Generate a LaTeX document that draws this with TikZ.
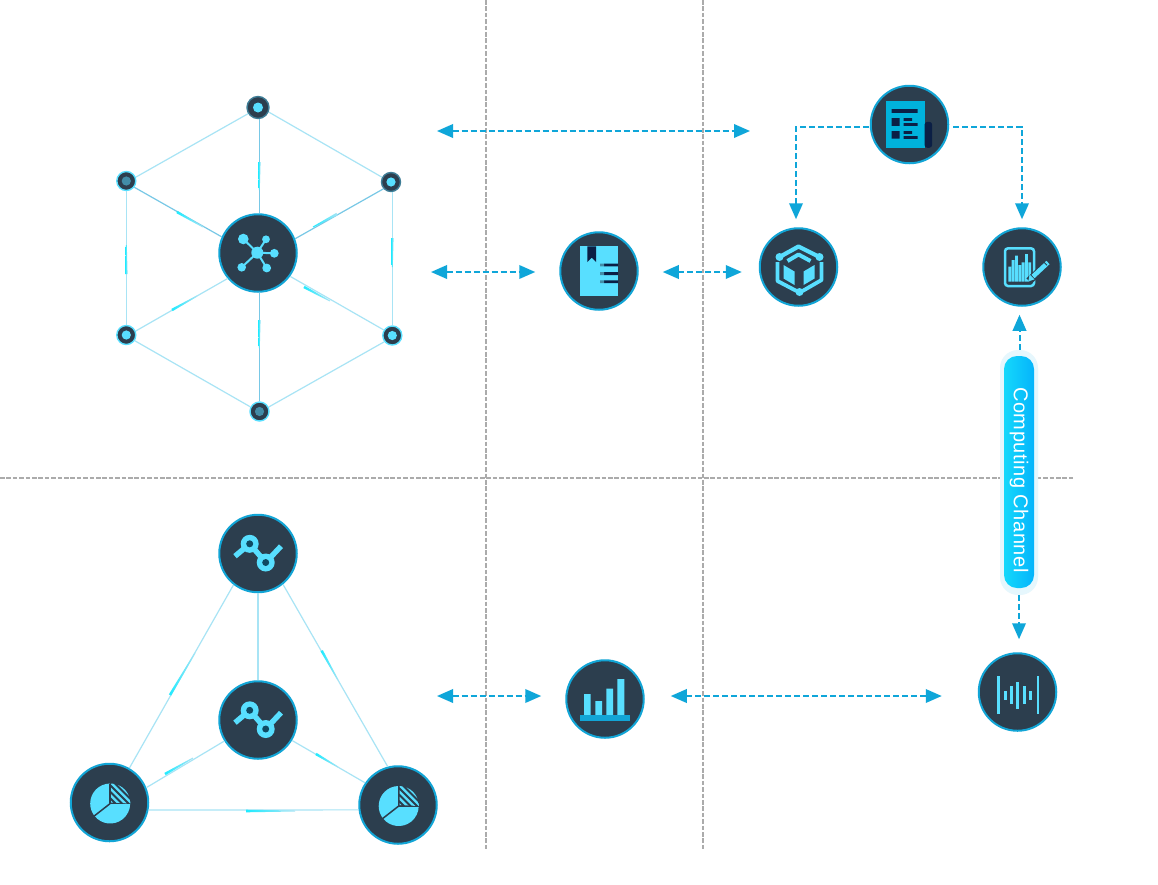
\documentclass[tikz,border=0pt]{standalone}
\usepackage{fontspec}
\setmainfont{Liberation Sans}
\usetikzlibrary{arrows.meta,calc}
\definecolor{dark}{HTML}{2C3E4E}
\definecolor{rim}{HTML}{12A5D6}
\definecolor{ice}{HTML}{58DFFF}
\definecolor{navy}{HTML}{0B1F45}
\definecolor{edgec}{HTML}{A8E4F5}
\definecolor{spoke}{HTML}{78C8E6}
\definecolor{flash}{HTML}{1EEBFF}
\definecolor{arrowc}{HTML}{0FA6D9}
\definecolor{divc}{HTML}{ABABAB}
\definecolor{hole}{HTML}{0F4A63}
\definecolor{docblue}{HTML}{00B2DC}
\definecolor{dimdot}{HTML}{428DA8}
\tikzset{
  bignode/.style={circle,fill=dark,draw=rim,line width=2pt,minimum size=77.5pt,inner sep=0pt},
  smallnode/.style={circle,fill=dark,draw=ice,line width=1.4pt,minimum size=#1,inner sep=0pt},
  smallnode/.default=18pt,
  dimrim/.style={draw=dimdot!80!dark},
  divider/.style={divc,line width=2pt,dash pattern=on 4.6pt off 1.8pt},
  link/.style={edgec,line width=1.2pt},
  spokelink/.style={spoke,line width=1.2pt},
  arr/.style={arrowc,line width=2pt,dash pattern=on 6pt off 3pt,
     {Triangle[length=16pt,width=13.5pt]}-{Triangle[length=16pt,width=13.5pt]}},
  arrone/.style={arrowc,line width=2pt,dash pattern=on 6pt off 3pt,
     -{Triangle[length=16pt,width=13.5pt]}},
  ico/.style={ice,line width=2pt},
}
\newcommand{\streak}[4]{%
  \pgfmathsetmacro\stang{atan2((#2)-(#4),(#3)-(#1))}%
  \pgfmathsetmacro\stlen{veclen((#3)-(#1),(#4)-(#2))}%
  \shade[shift={(#1,#2)},rotate=\stang,left color=flash,right color=edgec]
    (0,1.3pt) -- (\stlen pt,0.5pt) -- (\stlen pt,-0.5pt) -- (0,-1.3pt) -- cycle;}
\newcommand{\routeicon}[1]{%
  \begin{scope}[shift={(#1)}]
    \draw[ice,line width=5.4pt] (-23,2.7) -- (-8.3,-9.7) -- (7.7,9) -- (23,-7.3);
    \foreach \p in {(-8.3,-9.7),(7.7,9)}{
      \fill[ice] \p circle[radius=9pt];
      \fill[hole] \p circle[radius=3.5pt];}
  \end{scope}}
\newcommand{\pieicon}[1]{%
  \begin{scope}[shift={(#1)},shift={(0.7,1)}]
    \fill[ice] (0,0) -- (90:20pt) arc[start angle=90,end angle=218,radius=20pt] -- cycle;
    \fill[ice] (0,0) -- (218:20pt) arc[start angle=218,end angle=360,radius=20pt] -- cycle;
    \draw[dark,line width=1.5pt] (0,0) -- (218:21pt);
    \draw[dark,line width=1.5pt] (0,0) -- (90:20pt);
    \draw[dark,line width=1.5pt] (0,0) -- (0:21pt);
    \begin{scope}
      \clip (0.9pt,0.9pt) -- (0.9pt,20pt) arc[start angle=88,end angle=0,radius=20pt] -- cycle;
      \foreach \d in {-20,-13.5,...,24}
        \draw[ice,line width=2.3pt] (\d,-22) -- (\d+24,2);
    \end{scope}
  \end{scope}}
\begin{document}
\begin{tikzpicture}[x=1pt,y=-1pt]
\useasboundingbox (0,0) rectangle (1158,884);
\fill[white] (0,0) rectangle (1158,884);
% dividers
\coordinate (v1t) at (485.5,0); \coordinate (v1b) at (485.5,851);
\coordinate (v2t) at (703,0);   \coordinate (v2b) at (703,851);
\coordinate (hl) at (0,477.5);  \coordinate (hr) at (1075,477.5);
\draw[divider] (v1t) -- (v1b);
\draw[divider] (v2t) -- (v2b);
\draw[divider] (hl) -- (hr);
% nodes
\node[bignode] (hub) at (258,253) {};
\node[smallnode=22pt,dimrim] (s1) at (258,107.5) {};
\node[smallnode=19pt] (s2) at (126.3,181) {};
\node[smallnode=19pt,dimrim] (s3) at (391,182) {};
\node[smallnode=19pt] (s4) at (126.3,335) {};
\node[smallnode=19pt] (s5) at (392.3,335.5) {};
\node[smallnode=19pt] (s6) at (259.5,411.5) {};
\fill[ice] (s1.center) circle[radius=5pt];
\fill[dimdot] (s2.center) circle[radius=4.6pt];
\fill[ice] (s3.center) circle[radius=4.6pt];
\fill[ice] (s4.center) circle[radius=4.6pt];
\fill[ice] (s5.center) circle[radius=4.6pt];
\fill[dimdot] (s6.center) circle[radius=4.6pt];
\node[bignode] (doc) at (909.5,124.5) {};
\node[bignode] (book) at (599,271) {};
\node[bignode] (cube) at (798.5,267) {};
\node[bignode] (chart) at (1022,267) {};
\node[bignode] (tritop) at (258,553.5) {};
\node[bignode] (tricen) at (258,720) {};
\node[bignode] (tril) at (109.5,802.5) {};
\node[bignode] (trir) at (398,805) {};
\node[bignode] (bars) at (605,699) {};
\node[bignode] (wave) at (1017.5,692) {};
% hexagon links
\draw[link] (s1.212) -- (s2.22);
\draw[link] (s1.-23.4) -- (s3.152.4);
\draw[link] (s2.south) -- (s4.north);
\draw[link] (s5.north) -- (s5.north |- s3.south);
\draw[link] (s4.-34.6) -- (s6.153.2);
\draw[link] (s5.218) -- (s6.26);
\draw[spokelink] ([xshift=1.3pt]hub.north) -- ([xshift=1.3pt]s1.south);
\draw[spokelink] (hub.156.8) -- (s2.-38.4);
\draw[spokelink] (hub.21.1) -- (s3.222);
\draw[link] (hub.220) -- (s4.23.9);
\draw[link] (hub.-36.6) -- (s5.147.7);
\draw[spokelink] (s6.north) -- (s6.north |- hub.south);
\streak{259.3}{162}{259.3}{190}
\streak{177}{212}{203}{227}
\streak{337}{214}{313}{227}
\streak{172}{310}{197}{296}
\streak{304}{287}{330}{301}
\streak{259.3}{320}{259.3}{348}
\streak{126.3}{274}{126.3}{245}
\streak{392.3}{238}{392.3}{267}
% triangle links
\draw[link] (tritop.232.9) -- (tril.60.3);
\draw[link] (tritop.-51.8) -- (trir.105.7);
\draw[link] (tritop) -- (tricen);
\draw[link] (tricen.212) -- (tril.22.8);
\draw[link] (tricen.-31) -- (trir.146);
\draw[link] (tril.-11.5) -- (trir.187.4);
\streak{170}{695}{195}{653}
\streak{321.7}{650.7}{338}{680}
\streak{165}{774}{193}{758}
\streak{316}{754}{338}{767}
\streak{246}{811}{295}{811}
% arrows
\coordinate (a1l) at (437,131); \coordinate (a1r) at (750,131);
\coordinate (a2l) at (431,272); \coordinate (a4l) at (437,696);
\draw[arr] (a1l) -- (a1r);
\draw[arr,shorten >=24pt] (a2l) -- (a2l -| book.west);
\draw[arr,shorten <=24pt,shorten >=17pt] ([yshift=-1pt]book.east) -- ([yshift=-1pt]book.east -| cube.west);
\draw[arr,shorten >=24pt] (a4l) -- (a4l -| bars.west);
\draw[arr,shorten <=26pt,shorten >=36pt] ([yshift=3pt]bars.east) -- ([yshift=3pt]bars.east -| wave.west);
\draw[arrone,shorten <=1pt,shorten >=8pt] ([yshift=-2.5pt]doc.west) -| ([xshift=-2.5pt]cube.north);
\draw[arrone,shorten <=4pt,shorten >=8pt] ([yshift=-2.5pt]doc.east) -| (chart.north);
% computing channel pill
\node[rectangle,rotate=-90,fill=cyan!10,rounded corners=18pt,minimum width=245pt,minimum height=38pt,inner sep=0pt] (halo) at (1019,472.5) {};
\node[rectangle,rotate=-90,rounded corners=13pt,minimum width=232pt,minimum height=30pt,inner sep=0pt,
  left color={rgb,255:red,20;green,216;blue,251},right color={rgb,255:red,5;green,180;blue,251},
  text=white,font=\fontsize{20}{24}\selectfont\addfontfeature{LetterSpace=3}] (pill) at (1019,472) {\hspace{16pt}Computing Channel};
\draw[arrone,shorten >=8pt] ([xshift=0.5pt]halo.west) -- ([xshift=0.5pt]halo.west |- chart.south);
\draw[arrone,shorten >=13pt] (halo.east) -- (halo.east |- wave.north);
% hub icon
\begin{scope}[shift={(hub.center)}]
  \draw[ico] (-0.7,-0.3) -- (-14.7,-14) (-0.7,-0.3) -- (8,-13.7) (-0.7,-0.3) -- (16.3,0.3)
     (-0.7,-0.3) -- (-16.3,14.3) (-0.7,-0.3) -- (8.7,15);
  \fill[ice] (-0.7,-0.3) circle[radius=6pt] (-14.7,-14) circle[radius=5.3pt] (8,-13.7) circle[radius=3.9pt]
     (16.3,0.3) circle[radius=4.4pt] (-16.3,14.3) circle[radius=4.3pt] (8.7,15) circle[radius=4.4pt];
\end{scope}
% document icon
\begin{scope}[shift={(doc.center)}]
  \fill[docblue] (-24,-23.7) rectangle (15,23.3);
  \fill[navy,rounded corners=3pt] (15,-2.7) -- (22.7,-2.7) -- (22.7,23.3) -- (15,23.3) -- cycle;
  \fill[navy] (-18,-15.3) rectangle (8,-11.7)
    (-18,-6.3) rectangle (-10,1.3) (-18,6.7) rectangle (-10,14)
    (-6,-6.3) rectangle (2.7,-3.7) (-6,-1.3) rectangle (8,1.3)
    (-6,6.7) rectangle (2.7,9.3) (-6,11.7) rectangle (8,14.3);
\end{scope}
% book icon
\begin{scope}[shift={(book.center)}]
  \fill[ice] (-19,-24.7) rectangle (19,25);
  \fill[navy] (-11.7,-24.7) -- (-3,-24.7) -- (-3,-9) -- (-7.3,-13.3) -- (-11.7,-9) -- cycle;
  \fill[navy] (5,-7.3) rectangle (19,-4.7) (5,1) rectangle (19,4) (5,9.3) rectangle (19,12);
  \fill[dimdot] (1,-7.3) rectangle (5,-4.7) (1,1) rectangle (5,4) (1,9.3) rectangle (5,12);
\end{scope}
% cube icon
\begin{scope}[shift={(cube.center)}]
  \draw[ice,line width=4.2pt,line join=round] (-19,-10) -- (0,-20.5) -- (21,-10);
  \fill[ice] (-19,-10) circle[radius=4pt] (21,-10) circle[radius=4pt] (1,25) circle[radius=4pt];
  \draw[ice,line width=3.8pt,line join=round] (-21,-5) -- (-21,14) -- (-2,24);
  \draw[ice,line width=3.8pt,line join=round] (23,-5) -- (23,13) -- (4,24);
  \draw[ice,line width=4pt,line join=round] (-11,-6) -- (0,-12.5) -- (12,-6);
  \fill[ice] (-15,-2) -- (-4,4.5) -- (-4,18) -- (-15,11.5) -- cycle;
  \fill[ice] (16,-2) -- (5,4.5) -- (5,18) -- (16,11.5) -- cycle;
  \fill[dark] (-6,-2) -- (0.5,1.5) -- (7,-2) -- (7,-1) -- (3,2) -- (3,12) -- (-2,12) -- (-2,2) -- (-6,-1) -- cycle;
\end{scope}
% chart icon
\begin{scope}[shift={(chart.center)}]
  \draw[ice,line width=2.5pt,rounded corners=3pt] (-17,-18.7) rectangle (12,19);
  \fill[ice] (-13.7,-0.3) rectangle (-10.8,14.7) (-10.3,-7) rectangle (-7.4,14.7) (-7,-11.3) rectangle (-4.1,14.7)
    (-3.7,-2) rectangle (-0.8,14.7) (-0.3,-4.7) rectangle (2.6,14.7) (3,-13) rectangle (5.9,14.7) (6.3,-4.7) rectangle (9,14.7);
  \draw[dark,line width=7.5pt] (7,14) -- (27,-5);
  \draw[ice,line width=4.6pt] (11,9.5) -- (26,-4.5);
  \draw[dark,line width=1pt] (22,-4.7) -- (25,-1.7);
  \fill[ice] (6.2,14.5) -- (7.6,7.6) -- (12.4,12.4) -- cycle;
\end{scope}
% route icons
\routeicon{tritop.center}
\routeicon{tricen.center}
\pieicon{tril.center}
\pieicon{trir.center}
% bars icon
\begin{scope}[shift={(bars.center)}]
  \fill[ice] (-21,-5) rectangle (-14.3,16) (-9.7,2) rectangle (-3,16) (1.3,-10.3) rectangle (8,16) (12.3,-20) rectangle (19.3,16);
  \fill[rim] (-25,16) rectangle (25,21.7);
\end{scope}
% wave icon
\begin{scope}[shift={(wave.center)}]
  \foreach \px/\ph/\pw in {-19/19/2.6,-12/4.3/3.2,-5.7/9/3.2,0.3/13.3/3.2,6.7/9/3.2,13/4.3/3.2,20.3/19/2.6}
    \draw[ice,line width=\pw pt] (\px,3.3-\ph) -- (\px,3.3+\ph);
\end{scope}
\end{tikzpicture}
\end{document}
